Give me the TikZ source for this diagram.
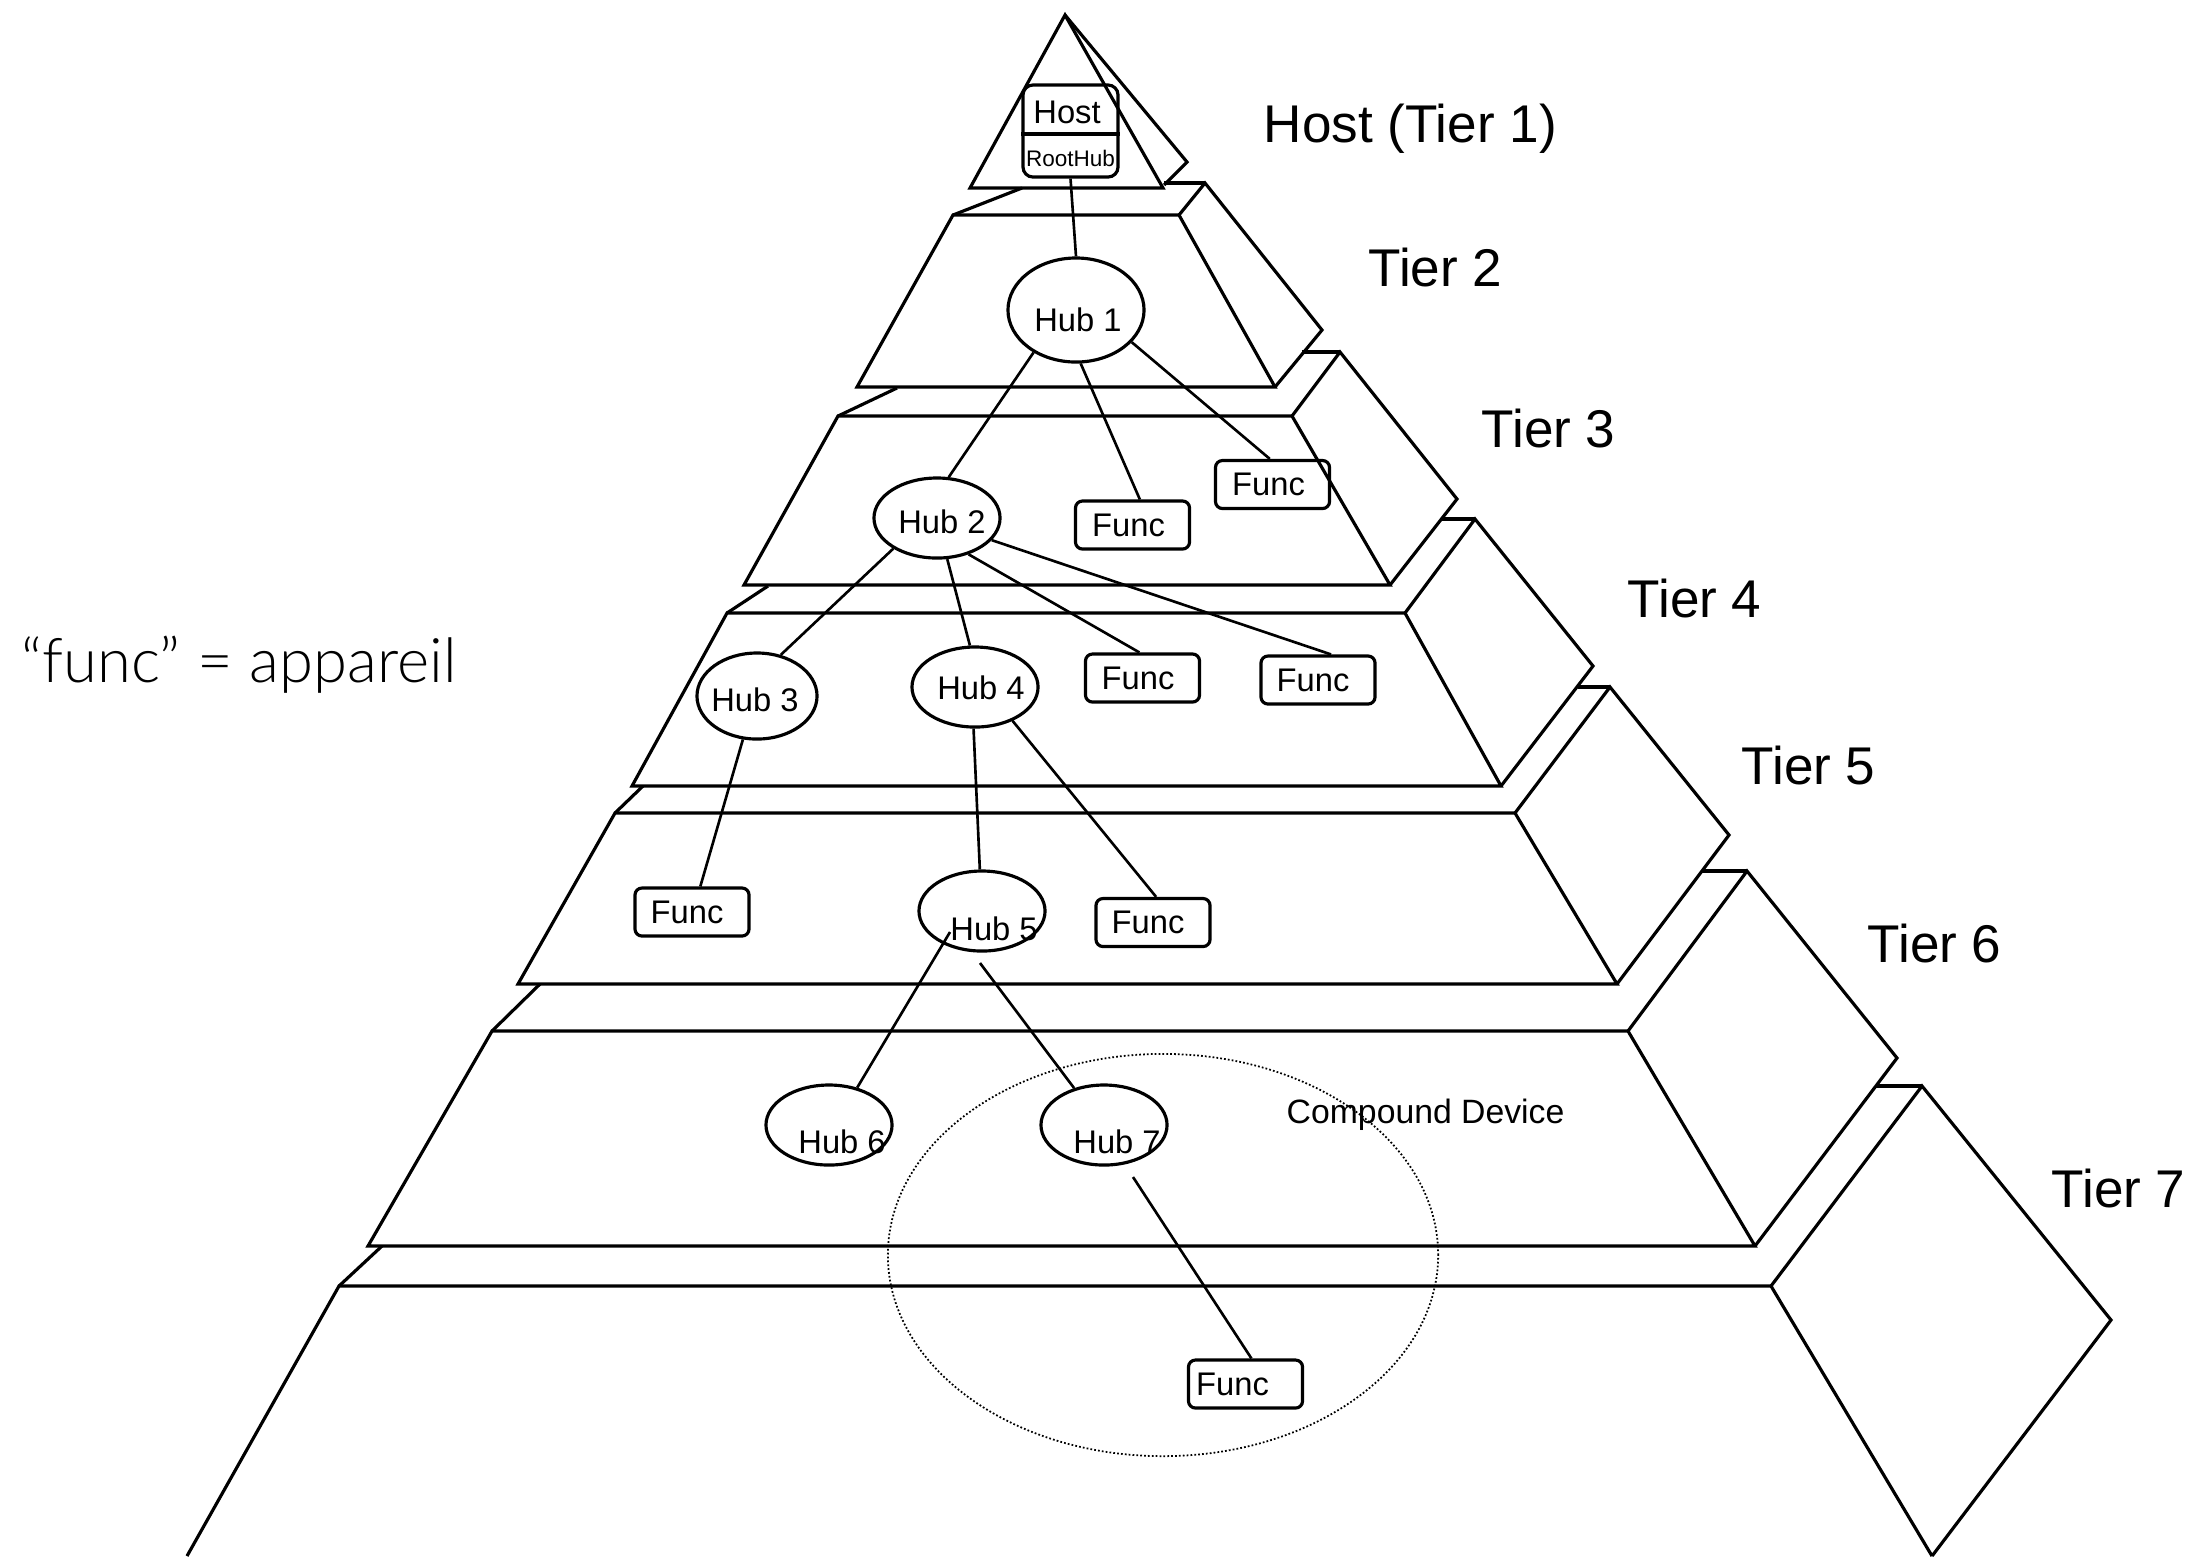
\documentclass[tikz,border=0pt]{standalone}
\usepackage{fontspec}
\setmainfont{Liberation Sans}
\newfontfamily\lightfont{Lato Light}
\usetikzlibrary{shapes.geometric}
\begin{document}
\begin{tikzpicture}[x=0.01cm,y=-0.01cm,
  face/.style={line width=0.9pt, line join=miter},
  conn/.style={line width=0.75pt},
  hub/.style={ellipse, draw, line width=0.9pt, inner sep=0pt, minimum width=1.26cm, minimum height=0.80cm},
  func/.style={rectangle, draw, rounded corners=0.07cm, line width=0.9pt, inner sep=0pt, minimum width=1.14cm, minimum height=0.48cm},
  ntext/.style={font=\fontsize{9.3}{11}\selectfont, inner sep=0pt},
  tierlbl/.style={font=\fontsize{15.1}{18}\selectfont, anchor=base west, inner sep=0pt},
  dots/.style={line width=0.5pt, dash pattern=on 0.5pt off 0.6pt}
]
\useasboundingbox (0,0) rectangle (2195,1556);

% ---------- tier 1 ----------
\draw[face] (1065,15) -- (1163,188) -- (970,188) -- cycle;
\draw[face] (1065,15) -- (1187,162) -- (1164,185);
% ---------- tier 2 ----------
\draw[face] (953,215) -- (1022,188);
\draw[face] (1164,183) -- (1205,183);
\draw[face] (953,215) -- (1179,215) -- (1275,387) -- (857,387) -- cycle;
\draw[face] (1179,215) -- (1205,183) -- (1322,330) -- (1275,387);
% ---------- tier 3 ----------
\draw[face] (838,416) -- (897,388);
\draw[face] (1302,352) -- (1340,352);
\draw[face] (838,416) -- (1292,416) -- (1390,585) -- (744,585) -- cycle;
\draw[face] (1292,416) -- (1340,352) -- (1457,499) -- (1390,585);
% ---------- tier 4 ----------
\draw[face] (727,613) -- (768,586);
\draw[face] (1442,519) -- (1475,519);
\draw[face] (727,613) -- (1405,613) -- (1501,786) -- (632,786) -- cycle;
\draw[face] (1405,613) -- (1475,519) -- (1593,666) -- (1501,786);
% ---------- tier 5 ----------
\draw[face] (615,813) -- (643,786);
\draw[face] (1578,687) -- (1610,687);
\draw[face] (615,813) -- (1515,813) -- (1617,984) -- (518,984) -- cycle;
\draw[face] (1515,813) -- (1610,687) -- (1729,835) -- (1617,984);
% ---------- tier 6 ----------
\draw[face] (492,1031) -- (540,984);
\draw[face] (1702,871) -- (1747,871);
\draw[face] (492,1031) -- (1628,1031) -- (1755,1246) -- (368,1246) -- cycle;
\draw[face] (1628,1031) -- (1747,871) -- (1897,1058) -- (1755,1246);
% ---------- tier 7 ----------
\draw[face] (339,1286) -- (382,1246);
\draw[face] (1876,1086) -- (1922,1086);
\draw[face] (187,1556) -- (339,1286) -- (1771,1286) -- (1932,1556);
\draw[face] (1771,1286) -- (1922,1086) -- (2111,1320) -- (1932,1556);

% ---------- host box ----------
\node[rectangle, draw, rounded corners=0.1cm, line width=0.9pt, inner sep=0pt,
      minimum width=0.95cm, minimum height=0.92cm,
      label={[ntext, xshift=-0.035cm, yshift=0.19cm]center:Host},
      label={[font=\fontsize{6.4}{8}\selectfont, inner sep=0pt, yshift=-0.27cm]center:RootHub}]
      (host) at (1070.5,131) {};
\draw[face] (host.west |- 0,134) -- (host.east |- 0,134);

% ---------- hubs ----------
\node[hub, minimum width=1.36cm, minimum height=1.04cm,
      label={[ntext, xshift=0.02cm, yshift=-0.10cm]center:Hub 1}] (hub1) at (1076,310) {};
\node[hub, label={[ntext, xshift=0.05cm, yshift=-0.04cm]center:Hub 2}] (hub2) at (937,518) {};
\node[hub, minimum width=1.20cm, minimum height=0.86cm,
      label={[ntext, xshift=-0.02cm, yshift=-0.04cm]center:Hub 3}] (hub3) at (757,696) {};
\node[hub, label={[ntext, xshift=0.06cm, yshift=-0.01cm]center:Hub 4}] (hub4) at (975,687) {};
\node[hub, label={[ntext, xshift=0.12cm, yshift=-0.18cm]center:Hub 5}] (hub5) at (982,911) {};
\node[hub, label={[ntext, xshift=0.13cm, yshift=-0.17cm]center:Hub 6}] (hub6) at (829,1125) {};
\node[hub, label={[ntext, xshift=0.13cm, yshift=-0.17cm]center:Hub 7}] (hub7) at (1104,1125) {};

% ---------- functions ----------
\node[func, label={[ntext, xshift=-0.04cm]center:Func}] (f3l) at (1132.5,525) {};
\node[func, label={[ntext, xshift=-0.04cm]center:Func}] (f3r) at (1272.5,484.5) {};
\node[func, label={[ntext, xshift=-0.045cm]center:Func}] (f4a) at (1142.5,678) {};
\node[func, label={[ntext, xshift=-0.05cm]center:Func}] (f4b) at (1318,680) {};
\node[func, label={[ntext, xshift=-0.05cm]center:Func}] (f5a) at (692,912) {};
\node[func, label={[ntext, xshift=-0.05cm]center:Func}] (f5b) at (1153,922.5) {};
\node[func, label={[ntext, xshift=-0.13cm]center:Func}] (f7) at (1245.5,1384) {};

% ---------- compound device ----------
\node[ellipse, draw, dots, inner sep=0pt, minimum width=5.5cm, minimum height=4.02cm] (compound) at (1163,1255) {};
\node[font=\fontsize{9.6}{11}\selectfont, anchor=base west, inner sep=0pt] (cdlabel) at (1286,1123) {Compound Device};

% ---------- connectors ----------
\coordinate (h5a) at (950,932);
\coordinate (h5b) at (980,963);
\coordinate (h7a) at (1133,1177);
\draw[conn] (host.south) -- (hub1.north);
\draw[conn] (hub1.225) -- (hub2.74);
\draw[conn] (hub1.275) -- (f3l.74);
\draw[conn] (hub1.330) -- (f3r.96);
\draw[conn] (hub2.215) -- (hub3.60);
\draw[conn] (hub2.284) -- (hub4.97);
\draw[conn] (hub2.311) -- (f4a.97);
\draw[conn] (hub2.338) -- (f4b.63);
\draw[conn] (hub3.252) -- (f5a.72);
\draw[conn] (hub4.268) -- (hub5.93);
\draw[conn] (hub4.318) -- (f5b.83);
\draw[conn] (h5a) -- (hub6.53);
\draw[conn] (h5b) -- (hub7.129);
\draw[conn] (h7a) -- (f7.77);

% ---------- labels ----------
\node[tierlbl] (t1) at (1263,142) {Host (Tier 1)};
\node[tierlbl] (t2) at (1368,286) {Tier 2};
\node[tierlbl] (t3) at (1481,447) {Tier 3};
\node[tierlbl] (t4) at (1627,617) {Tier 4};
\node[tierlbl] (t5) at (1741,784) {Tier 5};
\node[tierlbl] (t6) at (1867,962) {Tier 6};
\node[tierlbl] (t7) at (2051,1207) {Tier 7};
\node[font=\lightfont\fontsize{17.5}{21}\selectfont, anchor=base west, inner sep=0pt] (note) at (21,682) {“func” = appareil};
\end{tikzpicture}
\end{document}
